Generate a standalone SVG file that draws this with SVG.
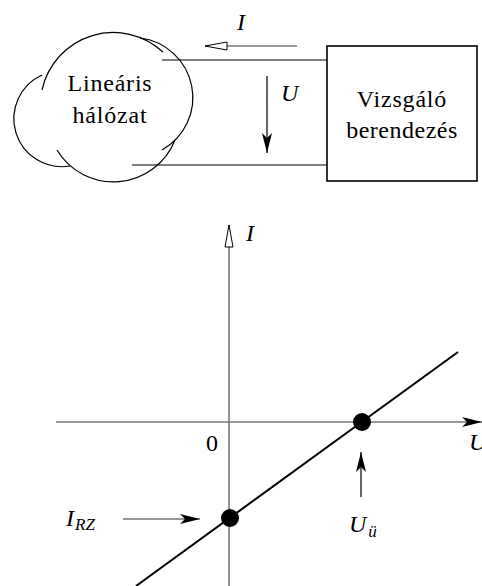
<svg xmlns="http://www.w3.org/2000/svg" width="482" height="586" viewBox="0 0 482 586">
<style>
.t{font-family:"Liberation Serif","DejaVu Serif",serif;font-size:24px;fill:#000}
.i{font-style:italic}
.s{font-size:17px}
.ln{stroke:#000;stroke-width:1.2;fill:none}
.gr{stroke:#777;stroke-width:1.6;fill:none}
</style>
<defs>
<marker id="fill" viewBox="0 0 20 10" refX="20" refY="5" markerWidth="20" markerHeight="10" markerUnits="userSpaceOnUse" orient="auto">
<path d="M0,0 L20,5 L0,10 L5,5 Z" fill="#000"/>
</marker>
<marker id="hollow" viewBox="0 0 24 10" refX="23" refY="5" markerWidth="24" markerHeight="10" markerUnits="userSpaceOnUse" orient="auto">
<path d="M1,1 L23,5 L1,9 Z" fill="#fff" stroke="#000" stroke-width="1"/>
</marker>
</defs>
<g id="cloud">
<path class="ln" d="M42,90 A73,73 0 0 1 163,52"/>
<path class="ln" d="M140,38 A60,60 0 0 1 162,150"/>
<path class="ln" d="M57,150 A66,66 0 0 0 175,140"/>
<path class="ln" d="M42,75 A48,48 0 0 0 70,166"/>
<text class="t" x="110" y="91" text-anchor="middle" letter-spacing="0.8">Lineáris</text>
<text class="t" x="110" y="123" text-anchor="middle" letter-spacing="0.8">hálózat</text>
</g>
<g id="box">
<rect x="327" y="46" width="150" height="135" fill="#fff" stroke="#000" stroke-width="1.6"/>
<text class="t" x="402" y="107" text-anchor="middle" letter-spacing="0.8">Vizsgáló</text>
<text class="t" x="402" y="138" text-anchor="middle" letter-spacing="0.5">berendezés</text>
</g>
<g id="connectors">
<line class="ln" x1="162" y1="60" x2="327" y2="60"/>
<line class="ln" x1="132" y1="165" x2="327" y2="165"/>
<line class="gr" x1="297" y1="46" x2="205" y2="46" marker-end="url(#hollow)"/>
<line class="ln" x1="267" y1="76" x2="267" y2="153" marker-end="url(#fill)"/>
<line class="gr" x1="229" y1="586" x2="229" y2="225" marker-end="url(#hollow)"/>
<line class="gr" x1="56" y1="422" x2="482" y2="422" marker-end="url(#fill)"/>
<line x1="136" y1="586" x2="458" y2="352" stroke="#000" stroke-width="2"/>
<line class="gr" x1="123" y1="519" x2="200" y2="519" marker-end="url(#fill)"/>
<line class="ln" x1="361" y1="497" x2="361" y2="452" marker-end="url(#fill)"/>
</g>
<g id="labels">
<text class="t i" x="237" y="30">I</text>
<text class="t i" x="281" y="101">U</text>
<text class="t i" x="246" y="241">I</text>
<text class="t i" x="469" y="450">U</text>
<text class="t" x="206" y="451">0</text>
<text class="t i" x="66" y="526">I<tspan class="s" dx="1" dy="4">RZ</tspan></text>
<text class="t i" x="349" y="532">U<tspan class="s" dx="2" dy="5">ü</tspan></text>
</g>
<g id="points">
<circle cx="230" cy="518" r="9" fill="#000"/>
<circle cx="362" cy="422" r="9" fill="#000"/>
</g>
</svg>
